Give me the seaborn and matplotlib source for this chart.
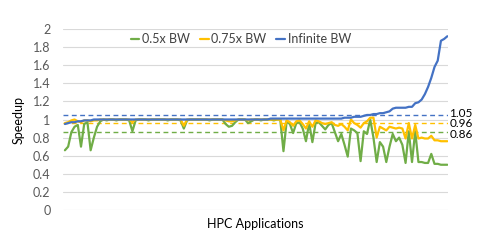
import matplotlib
matplotlib.use("Agg")
import matplotlib.pyplot as plt
import seaborn as sns
import pandas as pd
import numpy as np

series_names = ["0.5x BW", "0.75x BW", "Infinite BW"]
colors = ["#70AD47", "#FFC000", "#4472C4"]

bw_05 = [0.66, 0.70, 0.86, 0.92, 0.94, 0.70, 0.95, 0.97, 0.66, 0.80,
         0.92, 0.98, 1.00, 0.99, 1.00, 1.00, 0.99, 1.00, 1.00, 1.00,
         0.99, 0.87, 0.99, 1.00, 1.00, 1.00, 0.99, 1.00, 1.00, 1.00,
         1.00, 1.00, 0.99, 1.00, 1.00, 1.00, 0.99, 0.90, 0.99, 1.00,
         1.00, 1.00, 1.00, 1.00, 1.00, 0.99, 1.00, 1.00, 1.00, 1.00,
         0.95, 0.92, 0.93, 0.97, 1.00, 1.00, 1.00, 0.96, 0.98, 1.00,
         1.00, 0.99, 1.00, 1.00, 1.00, 0.99, 1.00, 1.00, 0.65, 0.98,
         0.95, 0.85, 0.96, 0.97, 0.90, 0.76, 0.96, 0.75, 0.96, 0.97,
         0.93, 0.89, 0.94, 0.96, 0.86, 0.76, 0.84, 0.72, 0.59, 0.90,
         0.88, 0.85, 0.54, 0.87, 0.84, 1.00, 0.80, 0.53, 0.75, 0.70,
         0.53, 0.70, 0.84, 0.76, 0.80, 0.72, 0.52, 0.87, 0.53, 0.87,
         0.53, 0.53, 0.52, 0.52, 0.62, 0.51, 0.51, 0.50, 0.50, 0.50]

bw_075 = [0.96, 0.97, 0.99, 1.00, 0.98, 0.97, 0.99, 0.99, 0.98, 0.99,
          0.99, 1.00, 1.00, 1.00, 1.00, 1.00, 1.00, 1.00, 1.00, 1.00,
          1.00, 0.97, 1.00, 1.00, 1.00, 1.00, 1.00, 1.00, 1.00, 1.00,
          1.00, 1.00, 1.00, 1.00, 1.00, 1.00, 1.00, 0.93, 1.00, 1.00,
          1.00, 1.00, 1.00, 1.00, 1.00, 1.00, 1.00, 1.00, 1.00, 1.00,
          0.99, 0.98, 0.98, 0.99, 1.00, 1.00, 1.00, 0.99, 1.00, 1.00,
          1.00, 1.00, 1.00, 1.00, 1.00, 1.00, 1.00, 1.00, 0.88, 0.99,
          0.97, 0.93, 0.98, 0.99, 0.95, 0.90, 0.98, 0.92, 0.99, 0.98,
          0.96, 0.95, 0.96, 0.97, 0.94, 0.93, 0.95, 0.92, 0.88, 1.00,
          0.96, 0.94, 0.91, 0.96, 0.98, 1.02, 1.02, 0.80, 0.92, 0.90,
          0.88, 0.92, 0.91, 0.90, 0.91, 0.90, 0.79, 0.96, 0.79, 0.94,
          0.79, 0.80, 0.79, 0.79, 0.82, 0.77, 0.77, 0.76, 0.76, 0.76]

bw_inf = [0.95, 0.96, 0.97, 0.97, 0.98, 0.98, 0.99, 0.99, 0.99, 1.00,
          1.00, 1.00, 1.00, 1.00, 1.00, 1.00, 1.00, 1.00, 1.00, 1.00,
          1.00, 1.00, 1.00, 1.00, 1.00, 1.00, 1.00, 1.00, 1.00, 1.00,
          1.00, 1.00, 1.00, 1.00, 1.00, 1.00, 1.00, 1.00, 1.00, 1.00,
          1.00, 1.00, 1.00, 1.00, 1.00, 1.00, 1.00, 1.00, 1.00, 1.00,
          1.00, 1.00, 1.00, 1.00, 1.00, 1.00, 1.00, 1.00, 1.00, 1.00,
          1.00, 1.00, 1.00, 1.00, 1.01, 1.01, 1.01, 1.01, 1.01, 1.01,
          1.01, 1.01, 1.01, 1.01, 1.01, 1.01, 1.01, 1.01, 1.01, 1.01,
          1.01, 1.01, 1.01, 1.01, 1.01, 1.01, 1.01, 1.02, 1.02, 1.02,
          1.03, 1.03, 1.03, 1.04, 1.05, 1.05, 1.06, 1.06, 1.07, 1.07,
          1.08, 1.09, 1.12, 1.13, 1.13, 1.13, 1.13, 1.14, 1.14, 1.18,
          1.19, 1.22, 1.28, 1.36, 1.46, 1.58, 1.65, 1.87, 1.89, 1.92]

ref_values = [1.05, 0.96, 0.86]
ref_colors = ["#4472C4", "#FFC000", "#70AD47"]
ref_labels = ["1.05", "0.96", "0.86"]
y_ticks = [0, 0.2, 0.4, 0.6, 0.8, 1, 1.2, 1.4, 1.6, 1.8, 2]
y_ticklabels = ["0", "0.2", "0.4", "0.6", "0.8", "1", "1.2", "1.4", "1.6", "1.8", "2"]

sns.set_theme(style="white")
plt.rcParams["font.family"] = ["Lato", "DejaVu Sans"]

n = len(bw_05)
df = pd.DataFrame({
    "app": list(range(n)) * 3,
    "speedup": bw_05 + bw_075 + bw_inf,
    "series": [series_names[0]] * n + [series_names[1]] * n + [series_names[2]] * n,
})

fig = plt.figure(figsize=(4.89, 2.44), dpi=100)
ax = fig.add_axes([63 / 489, 34 / 244, 385 / 489, 181 / 244])

for yv in y_ticks:
    ax.axhline(yv, color="#D9D9D9", lw=0.8, zorder=0)

for v, c in zip(ref_values, ref_colors):
    ax.axhline(v, color=c, lw=1.0, linestyle=(0, (3.5, 2.5)), zorder=1)

sns.lineplot(data=df, x="app", y="speedup", hue="series", hue_order=series_names,
             palette=colors, linewidth=1.6, ax=ax, legend=True, zorder=3)

# value labels, nudged apart slightly so they stay legible
label_offsets = [0.02, -0.008, -0.025]
for v, lab, off in zip(ref_values, ref_labels, label_offsets):
    ax.text(1.004, v + off, lab, transform=ax.get_yaxis_transform(), va="center",
            ha="left", fontsize=8.5, color="black")

ax.set_xlim(-0.6, n - 0.8)
ax.set_ylim(0, 2)
ax.set_yticks(y_ticks)
ax.set_yticklabels(y_ticklabels)
ax.set_xticks([])
ax.tick_params(axis="y", length=0, pad=9, labelsize=9, labelcolor="#595959")
for s in ax.spines.values():
    s.set_visible(False)

ax.set_xlabel("HPC Applications", fontsize=9, color="black", labelpad=6)
ax.set_ylabel("Speedup", fontsize=9, color="black", labelpad=6)

handles, labels = ax.get_legend_handles_labels()
leg = ax.legend(handles, labels, loc="center", bbox_to_anchor=(0.462, 0.945), ncol=3,
                frameon=False, fontsize=9, handlelength=0.7, handletextpad=0.2,
                columnspacing=0.8, borderpad=0)
for t in leg.get_texts():
    t.set_color("#404040")

fig.savefig("out.png", dpi=100)
